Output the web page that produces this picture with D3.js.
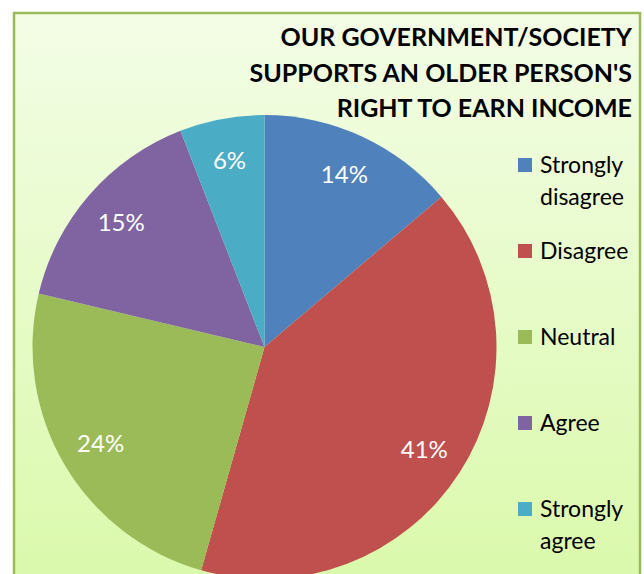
<!DOCTYPE html>
<html>
<head>
<meta charset="utf-8">
<script src="https://cdn.jsdelivr.net/npm/d3@7"></script>
<style>
  html, body { margin: 0; padding: 0; background: #fff; overflow: hidden; }
  svg { display: block; }
</style>
</head>
<body>
<svg id="chart" width="644" height="574"></svg>
<script>
// Chart data (percent shares; labels show rounded values)
const categories = ['Strongly disagree', 'Disagree', 'Neutral', 'Agree', 'Strongly agree'];
const legendLines = [['Strongly', 'disagree'], ['Disagree'], ['Neutral'], ['Agree'], ['Strongly', 'agree']];
const percentValues = [13.8, 40.6, 24.3, 15.4, 5.9];
const sliceColors = ['#4f81bd', '#c0504d', '#9bbb59', '#8064a2', '#4bacc6'];
const titleLines = ['OUR GOVERNMENT/SOCIETY', "SUPPORTS AN OLDER PERSON'S", 'RIGHT TO EARN INCOME'];

const W = 644, H = 574;
const FONT = 'Lato, "Open Sans", sans-serif';
const svg = d3.select('#chart');

// background frame with gradient
const defs = svg.append('defs');
const grad = defs.append('linearGradient').attr('id', 'bg').attr('x1', 0).attr('y1', 0).attr('x2', 0).attr('y2', 1);
grad.append('stop').attr('offset', '0%').attr('stop-color', '#f3fde6');
grad.append('stop').attr('offset', '100%').attr('stop-color', '#d9f9a8');

svg.append('rect').attr('x', 14).attr('y', 13).attr('width', 626).attr('height', 600)
  .attr('fill', 'url(#bg)').attr('stroke', '#9bbb59').attr('stroke-width', 2.5);

// pie
const cx = 264.5, cy = 347, radius = 232;
const pie = d3.pie().sort(null).value(d => d.value);
const arc = d3.arc().innerRadius(0).outerRadius(radius);
const labelArc = d3.arc().innerRadius(190).outerRadius(190);
const pieData = pie(categories.map((c, i) => ({ name: c, value: percentValues[i], color: sliceColors[i] })));

const g = svg.append('g').attr('transform', `translate(${cx},${cy})`);
g.selectAll('path.slice').data(pieData).enter().append('path')
  .attr('class', 'slice')
  .attr('d', arc)
  .attr('fill', d => d.data.color);

g.selectAll('text.pct').data(pieData).enter().append('text')
  .attr('class', 'pct')
  .attr('transform', d => `translate(${labelArc.centroid(d)})`)
  .attr('text-anchor', 'middle')
  .attr('dy', '0.35em')
  .attr('fill', '#fff')
  .style('font-family', FONT)
  .style('font-size', '24px')
  .text(d => Math.round(d.data.value) + '%');

// title
const title = svg.append('text')
  .attr('text-anchor', 'end')
  .style('font-family', FONT)
  .style('font-size', '25px')
  .style('font-weight', 'bold')
  .attr('fill', '#000');
titleLines.forEach((t, i) => {
  title.append('tspan').attr('x', 632).attr('y', 46 + i * 35.5).text(t);
});

// legend
const legendY = d3.scalePoint().domain(categories).range([165, 509]);
const leg = svg.append('g');
categories.forEach((c, i) => {
  const y = legendY(c);
  leg.append('rect').attr('x', 518).attr('y', y - 7).attr('width', 14).attr('height', 14).attr('fill', sliceColors[i]);
  const t = leg.append('text')
    .style('font-family', FONT)
    .style('font-size', '23px')
    .attr('fill', '#000');
  legendLines[i].forEach((line, j) => {
    t.append('tspan').attr('x', 540).attr('y', y + 8 + j * 32).text(line);
  });
});
</script>
</body>
</html>
